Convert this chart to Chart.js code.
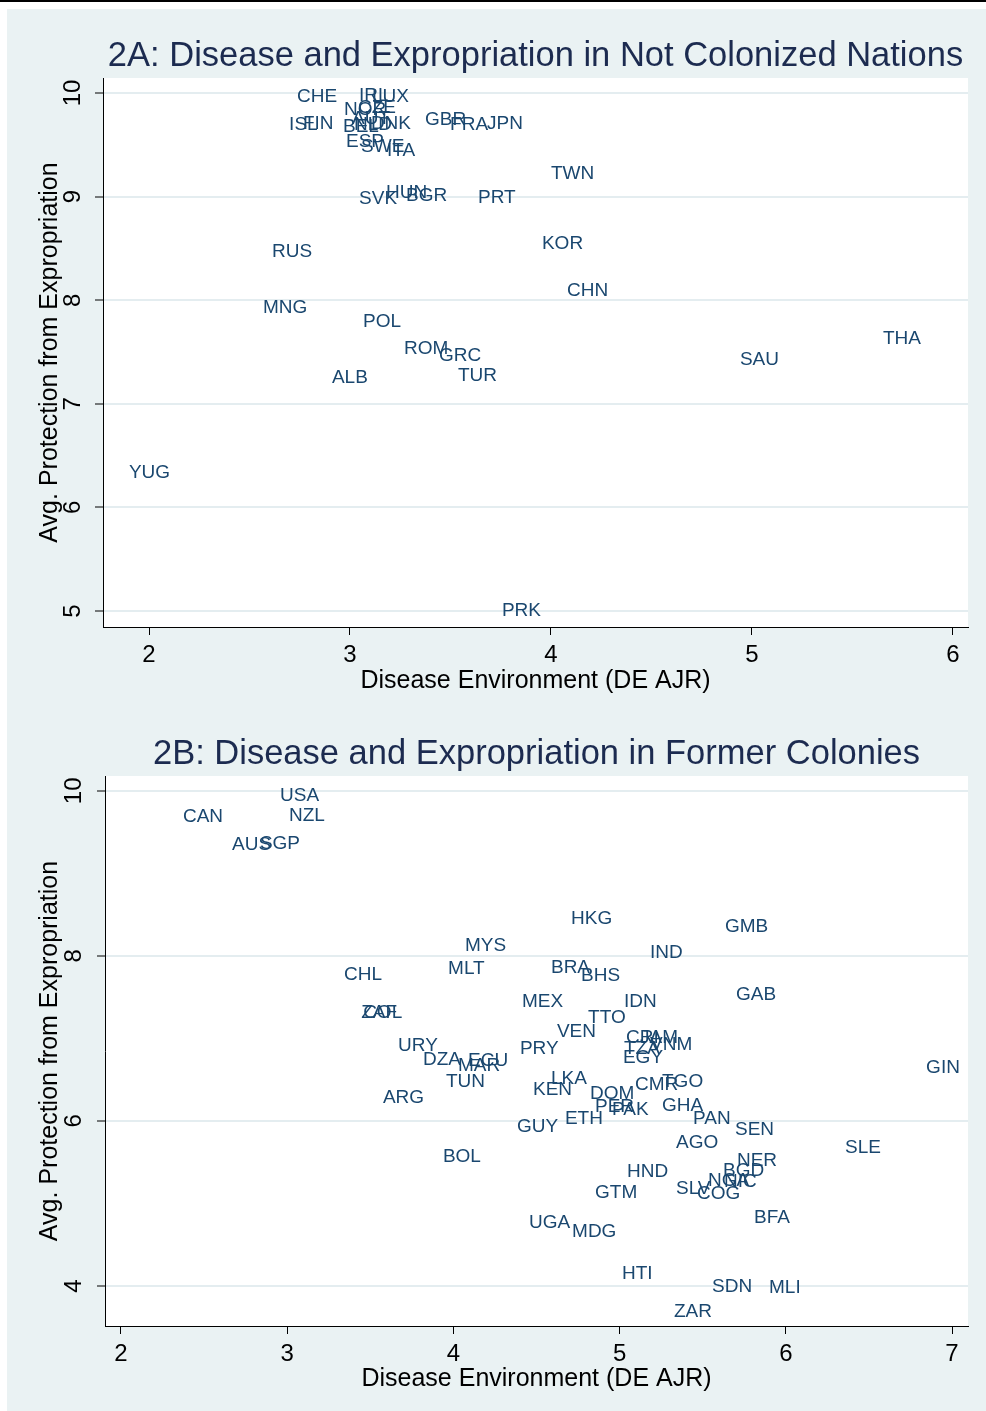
<!DOCTYPE html>
<html>
<head>
<meta charset="utf-8">
<script src="https://cdn.jsdelivr.net/npm/chart.js@4.4.1/dist/chart.umd.min.js"></script>
<style>
  body { margin: 0; background: #fff; width: 986px; height: 1411px; position: relative; overflow: hidden; }
  #topline { position: absolute; left: 0; top: 0; width: 986px; height: 2px; background: #000; }
  #frame { position: absolute; left: 7px; top: 9px; width: 979px; height: 1402px; background: #eaf2f3; }
  canvas { position: absolute; left: 0; }
</style>
</head>
<body>
<div id="topline"></div>
<div id="frame">
  <canvas id="c1" width="979" height="695" style="top:0"></canvas>
  <canvas id="c2" width="979" height="707" style="top:695px"></canvas>
</div>
<script>
// 2A: not colonized
const countriesA = ['CHE','IRL','LUX','NOR','CZE','AUT','BEL','NLD','DNK','ISL','FIN','ESP','SWE','ITA','GBR','FRA','JPN',
  'TWN','SVK','HUN','BGR','PRT','RUS','KOR','CHN','MNG','POL','ROM','GRC','TUR','ALB','SAU','THA','YUG','PRK']
const diseaseA = [2.736,3.045,3.109,2.970,3.040,3.010,2.965,3.020,3.104,2.697,2.766,2.980,3.055,3.184,3.373,3.498,3.682,
  4.000,3.045,3.179,3.279,3.637,2.612,3.955,4.080,2.567,3.065,3.269,3.443,3.537,2.910,4.940,5.652,1.900,3.756]
const expropA = [9.98,9.99,9.98,9.855,9.875,9.77,9.69,9.71,9.72,9.71,9.72,9.545,9.50,9.46,9.76,9.71,9.72,
  9.24,9.00,9.06,9.03,9.01,8.49,8.56,8.11,7.95,7.81,7.55,7.48,7.29,7.27,7.44,7.645,6.35,5.02]
const xTicksA = [2,3,4,5,6]
const yTicksA = [5,6,7,8,9,10]

// 2B: former colonies
const countriesB = ['USA','CAN','NZL','AUS','SGP','HKG','GMB','MYS','IND','CHL','MLT','BRA','BHS','GAB','MEX','IDN',
  'ZAF','COL','TTO','VEN','CRI','JAM','TZA','VNM','EGY','URY','DZA','ECU','MAR','PRY','TUN','ARG','LKA','KEN',
  'DOM','CMR','TGO','PER','PAK','GHA','ETH','GUY','PAN','SEN','SLE','GIN','AGO','BOL','NER','BGD','NGA','NIC',
  'SLV','COG','HND','GTM','BFA','UGA','MDG','HTI','SDN','MLI','ZAR']
const diseaseB = [2.957,2.373,3.011,2.668,2.836,4.708,5.634,4.070,5.183,3.342,3.968,4.587,4.768,5.700,4.413,5.026,
  3.445,3.457,4.810,4.623,5.039,5.123,5.026,5.183,5.020,3.667,3.817,4.088,4.028,4.400,3.955,3.576,4.587,4.479,
  4.822,5.093,5.255,4.852,4.954,5.255,4.671,4.383,5.442,5.694,6.356,6.844,5.339,3.937,5.706,5.622,5.532,5.628,
  5.339,5.466,5.045,4.852,5.809,4.455,4.714,5.014,5.556,5.899,5.327]
const expropB = [9.96,9.71,9.72,9.37,9.38,8.48,8.38,8.15,8.06,7.79,7.87,7.88,7.78,7.55,7.47,7.47,
  7.33,7.33,7.28,7.10,7.03,7.03,6.90,6.95,6.79,6.93,6.76,6.75,6.69,6.90,6.50,6.30,6.53,6.40,
  6.35,6.46,6.50,6.19,6.16,6.21,6.05,5.95,6.05,5.92,5.70,6.67,5.76,5.59,5.54,5.42,5.30,5.29,
  5.20,5.14,5.41,5.15,4.85,4.79,4.68,4.17,4.01,4.00,3.71]
const xTicksB = [2,3,4,5,6,7]
const yTicksB = [4,6,8,10]

const FONT = '"Liberation Sans", Arial, sans-serif'
const LABEL_COLOR = '#1a476f'

const stataLook = {
  id: 'stataLook',
  beforeDraw(chart) {
    const a = chart.chartArea
    chart.ctx.save()
    chart.ctx.fillStyle = '#fff'
    chart.ctx.fillRect(a.left, a.top, a.right - a.left, a.bottom - a.top)
    chart.ctx.restore()
  },
  afterDraw(chart, args, opts) {
    const ctx = chart.ctx
    const a = chart.chartArea
    ctx.save()
    // title
    ctx.font = '34.5px ' + FONT
    ctx.fillStyle = '#1c2b50'
    ctx.textAlign = 'center'
    ctx.textBaseline = 'middle'
    ctx.fillText(opts.title, (a.left + a.right) / 2, opts.titleY)
    // rotated y tick labels
    const ys = chart.scales.y
    ctx.font = '24px ' + FONT
    ctx.fillStyle = '#000'
    ys.ticks.forEach(t => {
      const py = ys.getPixelForValue(t.value)
      ctx.save()
      ctx.translate(opts.yTickX, py)
      ctx.rotate(-Math.PI / 2)
      ctx.fillText(String(t.value), 0, 0)
      ctx.restore()
    })
    // marker labels, drawn just right of the (invisible) marker
    ctx.font = '19px ' + FONT
    ctx.fillStyle = LABEL_COLOR
    ctx.textAlign = 'left'
    const meta = chart.getDatasetMeta(0)
    meta.data.forEach((pt, i) => {
      ctx.fillText(opts.labels[i], pt.x, pt.y + 2)
    })
    ctx.restore()
  }
}

const makeChart = (id, cfg) => {
  const pts = cfg.x.map((v, i) => ({x: v, y: cfg.y[i]}))
  return new Chart(document.getElementById(id), {
    type: 'scatter',
    data: { datasets: [{ data: pts, pointRadius: 0, pointHoverRadius: 0 }] },
    plugins: [stataLook],
    options: {
      responsive: false,
      animation: false,
      events: [],
      layout: { padding: { top: cfg.top, right: 18, left: 0, bottom: 0 } },
      plugins: {
        legend: { display: false },
        tooltip: { enabled: false },
        stataLook: { title: cfg.title, titleY: cfg.titleY, yTickX: cfg.yTickX, labels: cfg.labels }
      },
      scales: {
        x: {
          type: 'linear',
          min: cfg.xMin, max: cfg.xMax,
          afterBuildTicks: s => { s.ticks = cfg.xTicks.map(v => ({value: v})) },
          afterFit: s => { s.height = cfg.xH },
          ticks: { color: '#000', font: { family: FONT, size: 24 }, padding: 6, maxRotation: 0 },
          grid: { drawOnChartArea: false, tickLength: 8, tickColor: '#000', tickWidth: 1 },
          border: { display: true, color: '#000', width: 1 },
          title: { display: true, text: 'Disease Environment (DE AJR)', color: '#000',
            font: { family: FONT, size: 25 }, padding: { top: 0, bottom: cfg.xTitlePad } }
        },
        y: {
          type: 'linear',
          min: cfg.yMin, max: cfg.yMax,
          afterBuildTicks: s => { s.ticks = cfg.yTicks.map(v => ({value: v})) },
          afterFit: s => { s.width = cfg.yW },
          ticks: { display: false },
          grid: { color: '#e4edf0', lineWidth: 2, tickLength: 8, tickColor: '#000', tickWidth: 1 },
          border: { display: true, color: '#000', width: 1 },
          title: { display: true, text: 'Avg. Protection from Expropriation', color: '#000',
            font: { family: FONT, size: 25 }, padding: { top: 28, bottom: 0 } }
        }
      }
    }
  })
}

makeChart('c1', {
  x: diseaseA, y: expropA, labels: countriesA,
  title: '2A: Disease and Expropriation in Not Colonized Nations', titleY: 47,
  top: 69, xH: 77, yW: 96, yTickX: 66, xTitlePad: 8,
  xMin: 1.771, xMax: 6.075, yMin: 4.846, yMax: 10.145,
  xTicks: xTicksA, yTicks: yTicksA
})

makeChart('c2', {
  x: diseaseB, y: expropB, labels: countriesB,
  title: '2B: Disease and Expropriation in Former Colonies', titleY: 50,
  top: 72, xH: 85, yW: 98, yTickX: 67, xTitlePad: 17,
  xMin: 1.904, xMax: 7.096, yMin: 3.515, yMax: 10.18,
  xTicks: xTicksB, yTicks: yTicksB
})
</script>
</body>
</html>
